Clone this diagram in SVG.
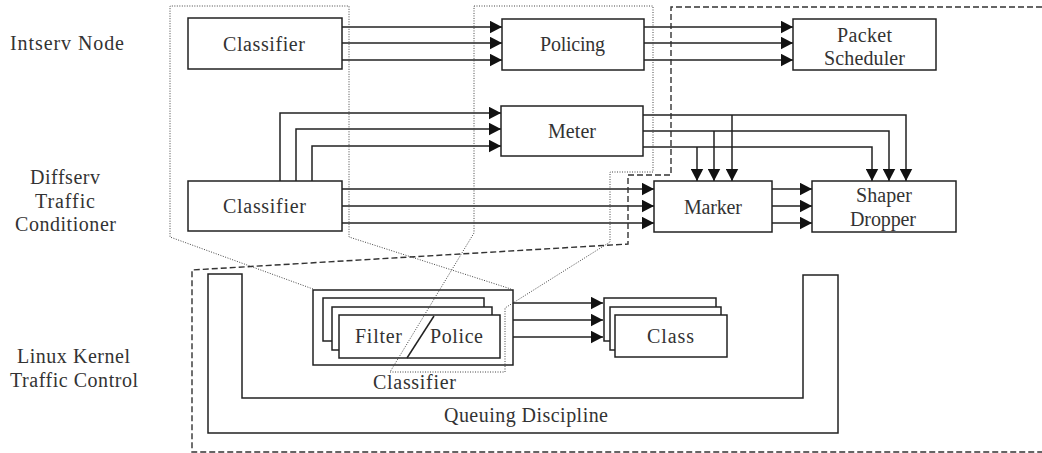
<svg xmlns="http://www.w3.org/2000/svg" width="1042" height="453" viewBox="0 0 1042 453">
  <style>
    .box { fill: #fff; stroke: #222; stroke-width: 1.5; }
    .wire { fill: none; stroke: #222; stroke-width: 1.5; }
    .arrow { fill: none; stroke: #222; stroke-width: 1.5; marker-end: url(#head); }
    .dotted { fill: none; stroke: #444; stroke-width: 1; stroke-dasharray: 1 1.5; }
    .dashed { fill: none; stroke: #333; stroke-width: 1.4; stroke-dasharray: 6 3; }
    text { font-family: "Liberation Serif", "Times New Roman", serif; font-size: 20px; fill: #333; text-anchor: middle; }
  </style>
  <defs>
    <marker id="head" markerUnits="userSpaceOnUse" markerWidth="13" markerHeight="13" refX="12.5" refY="6.5" orient="auto">
      <path d="M0,0 L12.5,6.5 L0,13 Z" fill="#111"/>
    </marker>
  </defs>
  <rect width="1042" height="453" fill="#fff"/>

  <!-- row labels -->
  <g id="labels">
    <text x="67" y="50" textLength="114">Intserv Node</text>
    <text x="65" y="184" textLength="70">Diffserv</text>
    <text x="65" y="208" textLength="60">Traffic</text>
    <text x="65.5" y="231" textLength="101">Conditioner</text>
    <text x="73.5" y="363" textLength="113">Linux Kernel</text>
    <text x="74" y="387" textLength="128">Traffic Control</text>
  </g>

  <!-- queuing discipline tray -->
  <g id="qdisc">
    <path class="box" d="M208,274 H242 V398 H803 V275 H838 V433 H208 Z"/>
    <text x="526" y="422" textLength="164">Queuing Discipline</text>
  </g>

  <!-- connectors -->
  <g id="connectors">
    <path class="arrow" d="M342,27 H502"/>
    <path class="arrow" d="M342,43 H502"/>
    <path class="arrow" d="M342,60 H502"/>
    <path class="arrow" d="M644,27 H793"/>
    <path class="arrow" d="M644,43 H793"/>
    <path class="arrow" d="M644,60 H793"/>

    <path class="arrow" d="M280,181 V113 H501"/>
    <path class="arrow" d="M296,181 V129 H501"/>
    <path class="arrow" d="M312,181 V146 H501"/>

    <path class="arrow" d="M342,189 H654"/>
    <path class="arrow" d="M342,206 H654"/>
    <path class="arrow" d="M342,223 H654"/>

    <path class="arrow" d="M772,189 H812"/>
    <path class="arrow" d="M772,206 H812"/>
    <path class="arrow" d="M772,223 H812"/>

    <path class="arrow" d="M643,115 H906 V181"/>
    <path class="arrow" d="M643,131 H889 V181"/>
    <path class="arrow" d="M643,147 H872 V181"/>
    <path class="arrow" d="M732,115 V181"/>
    <path class="arrow" d="M714,131 V181"/>
    <path class="arrow" d="M697,147 V181"/>

    <path class="arrow" d="M513,303 H603"/>
    <path class="arrow" d="M513,320 H603"/>
    <path class="arrow" d="M513,337 H603"/>
  </g>

  <!-- Intserv node -->
  <g id="intserv-classifier">
    <rect class="box" x="188" y="18" width="154" height="51"/>
    <text x="264" y="51" textLength="82">Classifier</text>
  </g>
  <g id="policing">
    <rect class="box" x="502" y="19" width="142" height="51"/>
    <text x="572.5" y="51" textLength="65">Policing</text>
  </g>
  <g id="packet-scheduler">
    <rect class="box" x="793" y="19" width="143" height="51"/>
    <text x="864.5" y="42" textLength="55">Packet</text>
    <text x="864.5" y="65" textLength="81">Scheduler</text>
  </g>

  <!-- Diffserv traffic conditioner -->
  <g id="meter">
    <rect class="box" x="501" y="106" width="142" height="50"/>
    <text x="572" y="138" textLength="48">Meter</text>
  </g>
  <g id="diffserv-classifier">
    <rect class="box" x="188" y="181" width="154" height="50"/>
    <text x="264.5" y="213" textLength="83">Classifier</text>
  </g>
  <g id="marker">
    <rect class="box" x="654" y="181" width="118" height="51"/>
    <text x="713" y="214" textLength="58">Marker</text>
  </g>
  <g id="shaper-dropper">
    <rect class="box" x="812" y="181" width="144" height="51"/>
    <text x="884" y="202" textLength="56">Shaper</text>
    <text x="883" y="226" textLength="66">Dropper</text>
  </g>

  <!-- Linux kernel traffic control -->
  <g id="filter-police">
    <rect class="box" x="313" y="290" width="200" height="75"/>
    <rect class="box" x="323" y="298" width="161" height="43"/>
    <rect class="box" x="332" y="307" width="160" height="43"/>
    <rect class="box" x="339" y="315" width="161" height="43"/>
    <text x="378.5" y="343" textLength="47">Filter</text>
    <text x="456.5" y="343" textLength="53">Police</text>
    <path class="wire" d="M434,316 L407,358"/>
    <text x="414.5" y="389" textLength="83">Classifier</text>
  </g>
  <g id="class">
    <rect class="box" x="604" y="298" width="112" height="43"/>
    <rect class="box" x="610" y="307" width="111" height="43"/>
    <rect class="box" x="615" y="315" width="112" height="42"/>
    <text x="670.5" y="343" textLength="47">Class</text>
  </g>

  <!-- correspondence outlines -->
  <g id="outlines">
    <path class="dotted" d="M313,289 L170,237 V6 H349 V237 L511,289"/>
    <path class="dotted" d="M474,6 H653 V172 H610 V242 L505,308 V372 H390 L474,233 Z"/>
    <path class="dashed" d="M1042,7 H671 V175 H628 V244 L192,270 V452 H1042"/>
  </g>
</svg>
